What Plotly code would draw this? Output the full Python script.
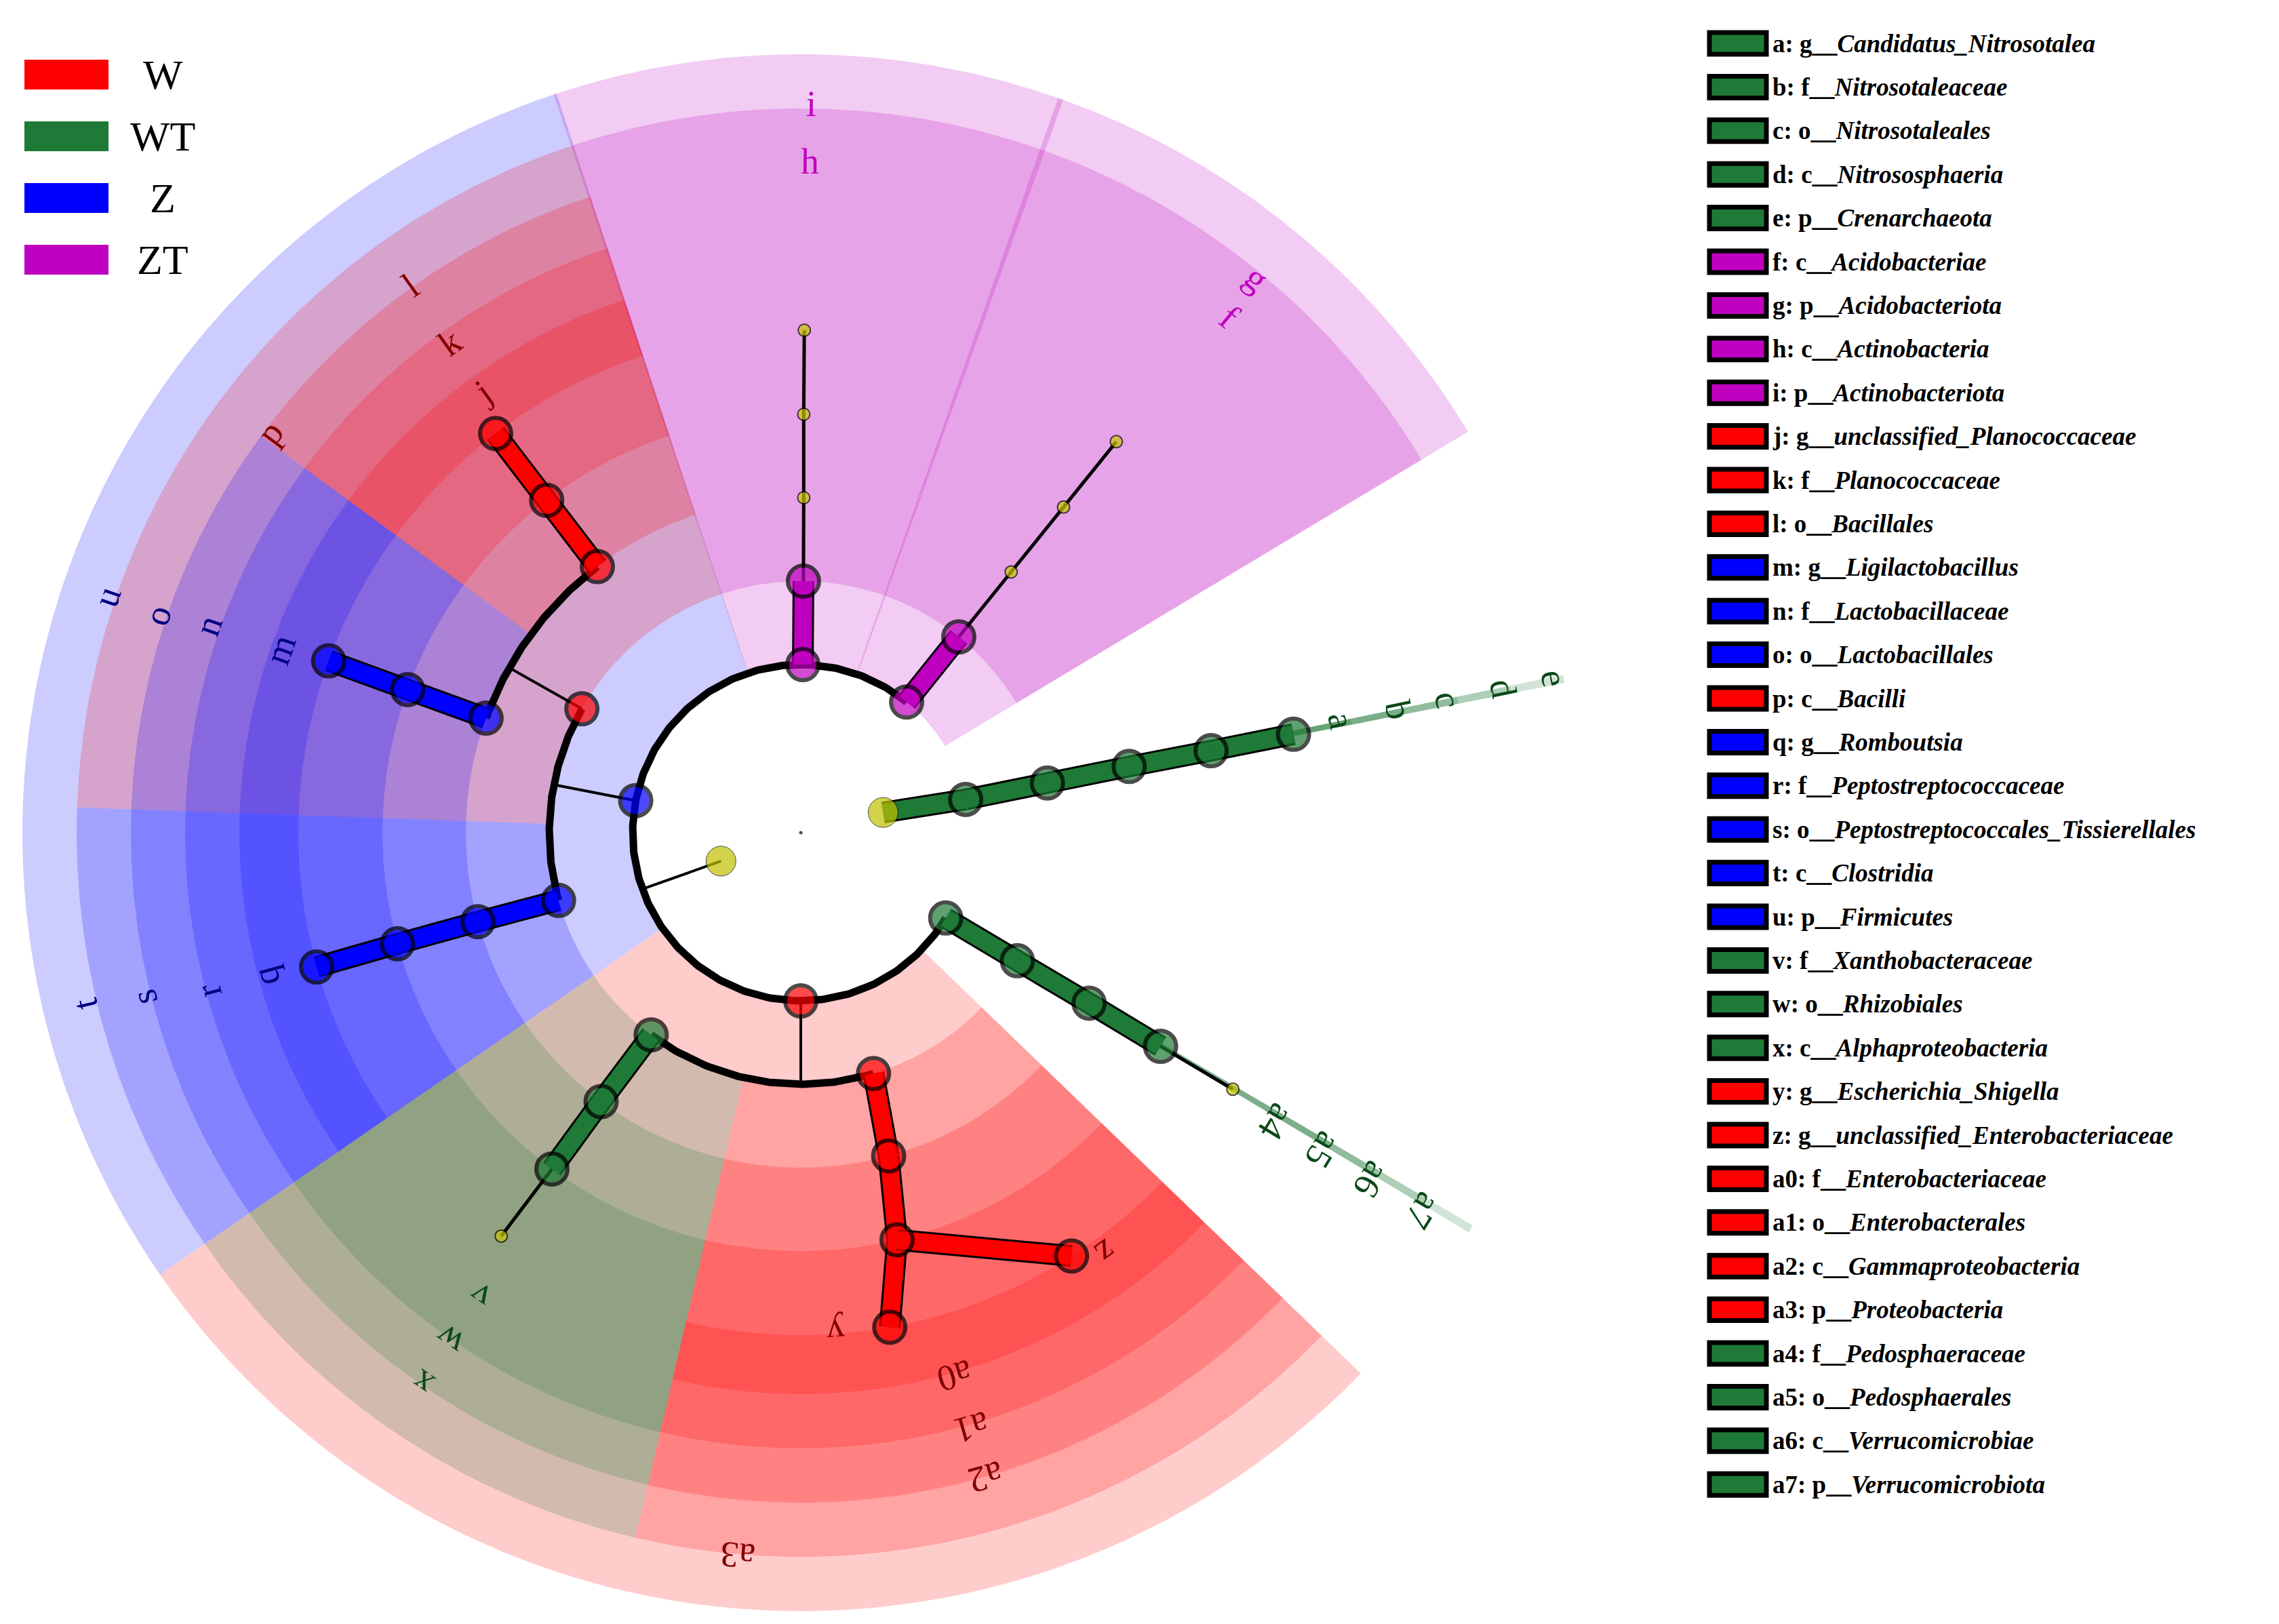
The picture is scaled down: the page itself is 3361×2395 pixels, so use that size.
import numpy as np
import plotly.graph_objects as go

# Colours of the four groups ------------------------------------------------
GROUP_COLOR = {'W': '#FF0000', 'WT': '#1E7A36', 'Z': '#0000FF', 'ZT': '#C000C0'}
GROUP_FILL = {'W': 'rgba(255,0,0,0.2)', 'WT': 'rgba(30,122,54,0.2)',
              'Z': 'rgba(0,0,255,0.2)', 'ZT': 'rgba(192,0,192,0.2)'}
GROUP_TEXT = {'W': '#800000', 'WT': '#0B4A18', 'Z': '#000080', 'ZT': '#C000C0'}
groups = ['W', 'WT', 'Z', 'ZT']

# Tree nodes (level: 0 root .. 6 genus, angle in degrees, biomarker group) ----
node_id = ['root', 'k_arc', 'k_bac',
           'e', 'd', 'c', 'b', 'a',
           'i', 'h', 'i_o', 'i_f', 'i_g',
           'g', 'f', 'g_o', 'g_f', 'g_g',
           'u', 'p', 'l', 'k', 'j', 'o', 'n', 'm', 't', 's', 'r', 'q',
           'a3', 'x', 'w', 'v', 'x_g', 'a2', 'a1', 'a0', 'y', 'z',
           'a7', 'a6', 'a5', 'a4', 'a7_g']
node_parent = [None, 'root', 'root',
               'k_arc', 'e', 'd', 'c', 'b',
               'k_bac', 'i', 'h', 'i_o', 'i_f',
               'k_bac', 'g', 'f', 'g_o', 'g_f',
               'k_bac', 'u', 'p', 'l', 'k', 'p', 'o', 'n', 'u', 't', 's', 'r',
               'k_bac', 'a3', 'x', 'w', 'v', 'a3', 'a2', 'a1', 'a0', 'a0',
               'k_bac', 'a7', 'a6', 'a5', 'a4']
node_level = [0, 1, 1,
              2, 3, 4, 5, 6,
              2, 3, 4, 5, 6,
              2, 3, 4, 5, 6,
              2, 3, 4, 5, 6, 4, 5, 6, 3, 4, 5, 6,
              2, 3, 4, 5, 6, 3, 4, 5, 6, 6,
              2, 3, 4, 5, 6]
node_theta = [0, 13.8, 199.6,
              11.4, 11.4, 11.4, 11.3, 11.3,
              89.3, 89.4, 89.5, 89.6, 89.6,
              51.0, 51.1, 51.1, 51.1, 51.1,
              169.0, 150.5, 127.4, 127.4, 127.4, 160.0, 160.0, 160.0,
              195.6, 195.4, 195.4, 195.5,
              270.0, 233.5, 233.4, 233.5, 233.4, 286.8, 285.2, 283.3, 280.2, 302.6,
              329.5, 329.4, 329.4, 329.3, 329.3]
node_group = [None, None, None,
              'WT', 'WT', 'WT', 'WT', 'WT',
              'ZT', 'ZT', None, None, None,
              'ZT', 'ZT', None, None, None,
              'Z', 'W', 'W', 'W', 'W', 'Z', 'Z', 'Z', 'Z', 'Z', 'Z', 'Z',
              'W', 'WT', 'WT', 'WT', None, 'W', 'W', 'W', 'W', 'W',
              'WT', 'WT', 'WT', 'WT', None]
# parents whose children hang on an arc
arc_parents = ['k_bac', 'u', 'p', 'a3']

# Shaded clades: label, start angle, end angle, level, group -----------------
wedge_label = ['u', 'p', 'l', 'k', 'j', 'o', 'n', 'm', 't', 's', 'r', 'q',
               'i', 'h', 'g', 'f',
               'a3', 'x', 'w', 'v', 'a2', 'a1', 'a0', 'y', 'z',
               'e', 'd', 'c', 'b', 'a', 'a7', 'a6', 'a5', 'a4']
wedge_start = [108.3, 108.3, 108.3, 108.3, 108.3, 143.7, 143.7, 143.7, 178.0, 178.0, 178.0, 178.0,
               70.3, 70.5, 31.0, 31.0,
               214.6, 214.6, 214.6, 214.6, 256.8, 256.8, 256.8, 256.8, 291.5,
               11.1, 11.1, 11.1, 11.1, 11.1, 329.1, 329.1, 329.1, 329.1]
wedge_end = [214.6, 178.0, 143.7, 143.7, 143.7, 178.0, 178.0, 178.0, 214.6, 214.6, 214.6, 214.6,
             108.5, 108.3, 70.7, 70.5,
             316.0, 256.8, 256.8, 256.8, 316.0, 316.0, 316.0, 291.5, 316.0,
             11.7, 11.7, 11.7, 11.7, 11.7, 329.7, 329.7, 329.7, 329.7]
wedge_level = [2, 3, 4, 5, 6, 4, 5, 6, 3, 4, 5, 6,
               2, 3, 2, 3,
               2, 3, 4, 5, 3, 4, 5, 6, 6,
               2, 3, 4, 5, 6, 2, 3, 4, 5]
wedge_group = ['Z', 'W', 'W', 'W', 'W', 'Z', 'Z', 'Z', 'Z', 'Z', 'Z', 'Z',
               'ZT', 'ZT', 'ZT', 'ZT',
               'W', 'WT', 'WT', 'WT', 'W', 'W', 'W', 'W', 'W',
               'WT', 'WT', 'WT', 'WT', 'WT', 'WT', 'WT', 'WT', 'WT']
label_theta = [161.2, 143.0, 125.5, 125.6, 125.8, 161.3, 160.7, 160.6, 193.5, 194.1, 195.0, 195.0,
               89.2, 89.2, 50.6, 50.3,
               265.0, 235.5, 235.3, 235.3, 286.0, 286.0, 285.8, 274.0, 306.0,
               11.6, 11.6, 11.6, 11.6, 11.7, 328.7, 328.7, 328.7, 328.7]

# Legend of biomarkers --------------------------------------------------------
legend_code = list('abcdefghijklmnopqrstuvwxyz') + ['a0', 'a1', 'a2', 'a3', 'a4', 'a5', 'a6', 'a7']
legend_taxon = ['g__Candidatus_Nitrosotalea', 'f__Nitrosotaleaceae', 'o__Nitrosotaleales',
                'c__Nitrososphaeria', 'p__Crenarchaeota', 'c__Acidobacteriae', 'p__Acidobacteriota',
                'c__Actinobacteria', 'p__Actinobacteriota', 'g__unclassified_Planococcaceae',
                'f__Planococcaceae', 'o__Bacillales', 'g__Ligilactobacillus', 'f__Lactobacillaceae',
                'o__Lactobacillales', 'c__Bacilli', 'g__Romboutsia', 'f__Peptostreptococcaceae',
                'o__Peptostreptococcales_Tissierellales', 'c__Clostridia', 'p__Firmicutes',
                'f__Xanthobacteraceae', 'o__Rhizobiales', 'c__Alphaproteobacteria',
                'g__Escherichia_Shigella', 'g__unclassified_Enterobacteriaceae',
                'f__Enterobacteriaceae', 'o__Enterobacterales', 'c__Gammaproteobacteria',
                'p__Proteobacteria', 'f__Pedosphaeraceae', 'o__Pedosphaerales',
                'c__Verrucomicrobiae', 'p__Verrucomicrobiota']
legend_group = ['WT'] * 5 + ['ZT'] * 4 + ['W'] * 3 + ['Z'] * 3 + ['W'] + ['Z'] * 5 + \
               ['WT'] * 3 + ['W'] * 6 + ['WT'] * 4

# Layout constants (pixels) ---------------------------------------------------
CX, CY = 1173, 1220
W_FIG, H_FIG = 3361, 2395
LEVEL_R = {0: 0, 1: 125, 2: 248, 3: 371, 4: 494, 5: 617, 6: 741}
OUTER_R = {2: 1148, 3: 1068, 4: 988, 5: 908, 6: 828}
LABEL_R = {'a': 814, 'b': 900, 'c': 974, 'd': 1057, 'e': 1134, 'f': 989, 'g': 1059,
           'h': 990, 'i': 1075, 'j': 801, 'k': 889, 'l': 991, 'm': 814, 'n': 925,
           'o': 1001, 'p': 980, 'q': 816, 'r': 904, 's': 998, 't': 1086, 'u': 1081,
           'v': 831, 'w': 910, 'x': 986, 'y': 738, 'z': 766, 'a0': 833, 'a1': 913,
           'a2': 989, 'a3': 1070, 'a4': 821, 'a5': 901, 'a6': 985, 'a7': 1073}


def pol(r, th):
    t = np.radians(th)
    return r * np.cos(t), r * np.sin(t)


fig = go.Figure()

# wedges
for lab, t0, t1, lev, grp in zip(wedge_label, wedge_start, wedge_end, wedge_level, wedge_group):
    th = np.linspace(t0, t1, 120)
    xo, yo = pol(OUTER_R[lev], th)
    xi, yi = pol(LEVEL_R[lev], th[::-1])
    fig.add_trace(go.Scatter(x=np.r_[xo, xi, xo[0]], y=np.r_[yo, yi, yo[0]], fill='toself',
                             fillcolor=GROUP_FILL[grp], line=dict(width=0), mode='lines',
                             hoverinfo='skip', showlegend=False))

idx = {n: i for i, n in enumerate(node_id)}

# arcs and radial connectors
for par in arc_parents:
    kids = [i for i, p in enumerate(node_parent) if p == par]
    pi = idx[par]
    r = LEVEL_R[node_level[kids[0]]]
    angs = [node_theta[k] for k in kids]
    if par == 'k_bac':
        th = np.linspace(51.0, 329.5, 400)
    else:
        th = np.linspace(min(angs), max(angs), 120)
    ax, ay = pol(r, th)
    fig.add_trace(go.Scatter(x=ax, y=ay, mode='lines', line=dict(color='black', width=11),
                             hoverinfo='skip', showlegend=False))
    x0, y0 = pol(LEVEL_R[node_level[pi]], node_theta[pi])
    x1, y1 = pol(r, node_theta[pi])
    fig.add_trace(go.Scatter(x=[x0, x1], y=[y0, y1], mode='lines', line=dict(color='black', width=4),
                             hoverinfo='skip', showlegend=False))

# straight edges
for i, par in enumerate(node_parent):
    if par is None or par in arc_parents or par == 'root' and node_id[i] == 'k_bac':
        continue
    if par == 'root':
        continue
    pi = idx[par]
    x0, y0 = pol(LEVEL_R[node_level[pi]], node_theta[pi])
    x1, y1 = pol(LEVEL_R[node_level[i]], node_theta[i])
    grp = node_group[i]
    if grp:
        line = dict(color=GROUP_COLOR[grp], width=26)
        fig.add_trace(go.Scatter(x=[x0, x1], y=[y0, y1], mode='lines',
                                 line=dict(color='black', width=32), hoverinfo='skip', showlegend=False))
    else:
        line = dict(color='black', width=5)
    fig.add_trace(go.Scatter(x=[x0, x1], y=[y0, y1], mode='lines', line=line,
                             hoverinfo='skip', showlegend=False))

# nodes
nx, ny, nc, ns, nl = [], [], [], [], []
for i, n in enumerate(node_id):
    x, y = pol(LEVEL_R[node_level[i]], node_theta[i])
    nx.append(x)
    ny.append(y)
    grp = node_group[i]
    if grp:
        nc.append(GROUP_COLOR[grp]); ns.append(46); nl.append(6)
    elif node_level[i] == 1:
        nc.append('#C0C000'); ns.append(44); nl.append(1)
    elif node_level[i] == 0:
        nc.append('black'); ns.append(5); nl.append(0)
    else:
        nc.append('#C8C800'); ns.append(18); nl.append(2)
fig.add_trace(go.Scatter(x=nx, y=ny, mode='markers', hoverinfo='skip', showlegend=False,
                         marker=dict(color=nc, size=ns, line=dict(color='black', width=nl))))

# clade labels
for lab, th, grp in zip(wedge_label, label_theta, wedge_group):
    x, y = pol(LABEL_R[lab], th)
    fig.add_annotation(x=x, y=y, text=lab, showarrow=False, textangle=90 - th,
                       font=dict(family='Liberation Serif', size=54, color=GROUP_TEXT[grp]))

# group legend (top left)
for k, grp in enumerate(groups):
    yc = CY - 102 - 91 * k
    fig.add_shape(type='rect', x0=28 - CX, x1=152 - CX, y0=yc - 22, y1=yc + 22,
                  fillcolor=GROUP_COLOR[grp], line=dict(width=0))
    fig.add_annotation(x=232 - CX, y=yc, text=grp, showarrow=False,
                       font=dict(family='Liberation Serif', size=62, color='black'))

# biomarker legend (right)
for k, (code, tax, grp) in enumerate(zip(legend_code, legend_taxon, legend_group)):
    yc = CY - 56 - 64.4 * k
    fig.add_shape(type='rect', x0=2513 - CX, x1=2597 - CX, y0=yc - 16, y1=yc + 16,
                  fillcolor=GROUP_COLOR[grp], line=dict(color='black', width=7))
    rank, name = tax.split('__', 1)
    fig.add_annotation(x=2604 - CX, y=yc, xanchor='left', showarrow=False,
                       text=f'<b>{code}: {rank}__<i>{name}</i></b>',
                       font=dict(family='Liberation Serif', size=37, color='black'))

fig.update_layout(width=W_FIG, height=H_FIG, margin=dict(l=0, r=0, t=0, b=0),
                  plot_bgcolor='white', paper_bgcolor='white', showlegend=False,
                  xaxis=dict(range=[-CX, W_FIG - CX], visible=False),
                  yaxis=dict(range=[CY - H_FIG, CY], visible=False))

fig.write_html("out.html")
